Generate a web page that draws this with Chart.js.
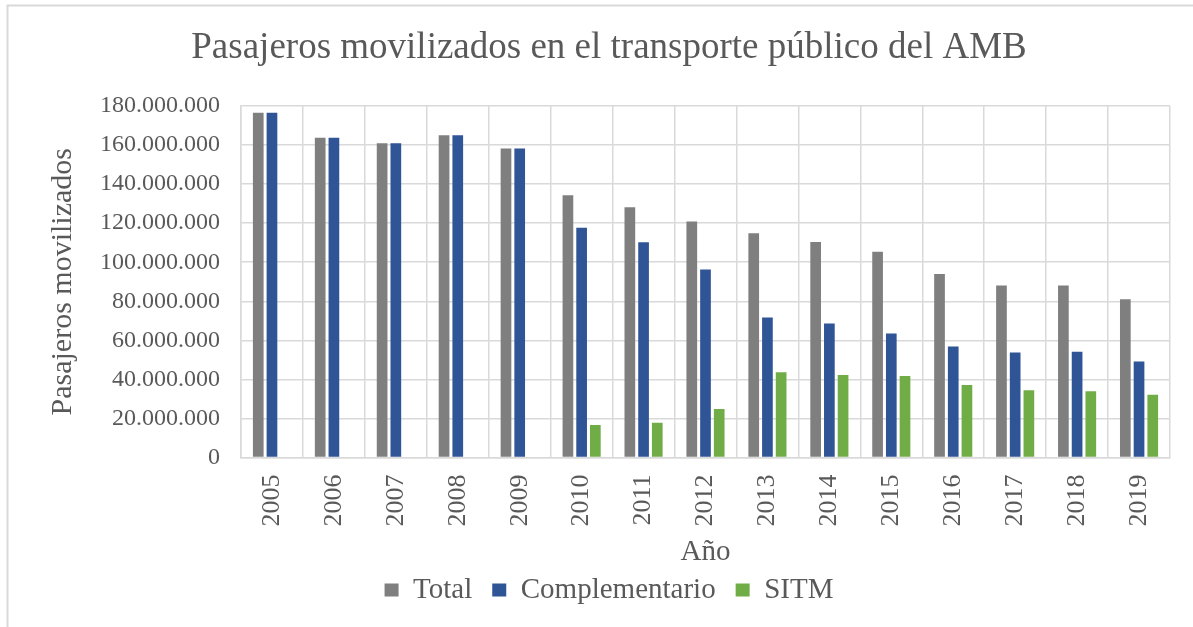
<!DOCTYPE html>
<html>
<head>
<meta charset="utf-8">
<script src="https://cdn.jsdelivr.net/npm/chart.js@4.4.1/dist/chart.umd.min.js"></script>
<style>
  html, body { margin: 0; padding: 0; background: #ffffff; }
  #wrap { width: 1193px; height: 627px; position: relative; }
</style>
</head>
<body>
<div id="wrap"><canvas id="c" width="1193" height="627"></canvas></div>
<script>
const categories = ['2005','2006','2007','2008','2009','2010','2011','2012','2013','2014','2015','2016','2017','2018','2019'];
const totalValues = [176600000,163800000,160900000,165000000,158200000,134300000,128100000,120800000,114800000,110400000,105300000,94000000,88100000,88100000,81100000];
const complementarioValues = [176600000,163800000,160900000,165000000,158200000,117700000,110200000,96300000,71700000,68600000,63500000,56900000,53800000,54100000,49200000];
const sitmValues = [null,null,null,null,null,16600000,17800000,24800000,43600000,42200000,41700000,37100000,34500000,33900000,32100000];
const yTickValues = [0,20000000,40000000,60000000,80000000,100000000,120000000,140000000,160000000,180000000];

const FONT = "'Liberation Serif', 'Times New Roman', serif";
const TXT = '#595959';
const GRID = '#d9d9d9';

function fmt(v) {
  return String(Math.round(v)).replace(/\B(?=(\d{3})+(?!\d))/g, '.');
}

const borderPlugin = {
  id: 'outerBorder',
  beforeDraw(chart) {
    const ctx = chart.ctx;
    ctx.save();
    ctx.fillStyle = '#ffffff';
    ctx.fillRect(0, 0, chart.width, chart.height);
    ctx.strokeStyle = GRID;
    ctx.lineWidth = 2;
    ctx.beginPath();
    ctx.moveTo(7.5, chart.height);
    ctx.lineTo(7.5, 5.5);
    ctx.lineTo(chart.width, 5.5);
    ctx.stroke();
    ctx.restore();
  }
};

new Chart(document.getElementById('c'), {
  type: 'bar',
  data: {
    labels: categories,
    datasets: [
      { label: 'Total', data: totalValues, backgroundColor: '#7f7f7f' },
      { label: 'Complementario', data: complementarioValues, backgroundColor: '#2f5597' },
      { label: 'SITM', data: sitmValues, backgroundColor: '#70ad47' }
    ]
  },
  options: {
    responsive: false,
    animation: false,
    devicePixelRatio: 1,
    layout: { padding: { left: 48, right: 23, top: 0, bottom: 12.5 } },
    datasets: { bar: { categoryPercentage: 0.664, barPercentage: 0.78 } },
    plugins: {
      title: {
        display: true,
        text: 'Pasajeros movilizados en el transporte público del AMB',
        color: TXT,
        font: { family: FONT, size: 37, weight: 'normal', lineHeight: 1.2 },
        padding: { top: 26, bottom: 35.6 }
      },
      legend: {
        display: true,
        position: 'bottom',
        labels: {
          color: TXT,
          font: { family: FONT, size: 29 },
          boxWidth: 14,
          boxHeight: 13,
          padding: 20
        }
      },
      tooltip: { enabled: false }
    },
    scales: {
      x: {
        grid: { color: GRID, lineWidth: 1.5, drawTicks: false, offset: true },
        border: { color: GRID, width: 1.5 },
        ticks: {
          color: TXT,
          font: { family: FONT, size: 26 },
          minRotation: 90, maxRotation: 90,
          autoSkip: false,
          padding: 17
        },
        title: {
          display: true,
          text: 'Año',
          color: TXT,
          font: { family: FONT, size: 29, lineHeight: 1.0 },
          padding: { top: 0, bottom: -11 }
        },
        afterFit(scale) { scale.height = 98; }
      },
      y: {
        min: 0,
        max: 180000000,
        grid: { color: GRID, lineWidth: 1.5, drawTicks: false },
        border: { color: GRID, width: 1.5 },
        afterBuildTicks(scale) { scale.ticks = yTickValues.map(v => ({ value: v })); },
        ticks: {
          color: TXT,
          font: { family: FONT, size: 24 },
          padding: 21,
          callback: (v) => fmt(v)
        },
        title: {
          display: true,
          text: 'Pasajeros movilizados',
          color: TXT,
          font: { family: FONT, size: 30, lineHeight: 1.0 },
          padding: { top: 0, bottom: 0 }
        },
        afterFit(scale) { scale.width = 193; }
      }
    }
  },
  plugins: [borderPlugin]
});
</script>
</body>
</html>
